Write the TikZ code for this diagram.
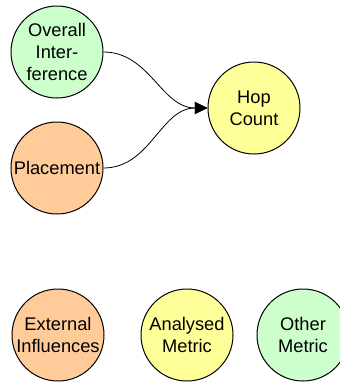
\documentclass[tikz,border=0pt]{standalone}
\usepackage{fontspec}
\setmainfont{Liberation Sans}
\usetikzlibrary{arrows.meta}

\definecolor{lightgreen}{HTML}{CCFFCC}
\definecolor{lightorange}{HTML}{FFCC99}
\definecolor{lightyellow}{HTML}{FFFF99}

\tikzset{
    factor/.style={circle, draw=black, line width=0.75pt, minimum size=69pt, inner sep=0pt,
        align=center, font=\fontsize{13.7pt}{16.5pt}\selectfont},
    link/.style={-{Triangle[length=9.5pt,width=9pt]}, line width=0.6pt}
}

\begin{document}
\begin{tikzpicture}[x=0.75pt, y=-0.75pt]
    \useasboundingbox (0,0) rectangle (340,383);
    \node[factor, fill=lightgreen]  (oi)  at ( 57, 52) {Overall\\Inter-\\ference};
    \node[factor, fill=lightorange] (pl)  at ( 57,168) {Placement};
    \node[factor, fill=lightyellow] (hop) at (254,108) {Hop\\Count};
    \node[factor, fill=lightorange] (ext) at ( 58,335) {External\\Influences};
    \node[factor, fill=lightyellow] (ana) at (187,335) {Analysed\\Metric};
    \node[factor, fill=lightgreen]  (oth) at (303,335) {Other\\Metric};
    \draw[link] (oi.east) to[out=0, in=180] (hop.west);
    \draw[link] (pl.east) to[out=0, in=180] (hop.west);
\end{tikzpicture}
\end{document}
